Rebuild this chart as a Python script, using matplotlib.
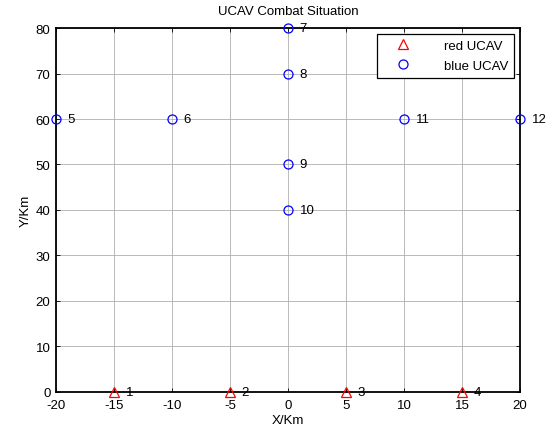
import matplotlib
matplotlib.use("Agg")
import matplotlib.pyplot as plt

red_x = [-15, -5, 5, 15]
red_y = [0, 0, 0, 0]
red_labels = ["1", "2", "3", "4"]
blue_x = [-20, -10, 0, 0, 0, 0, 10, 20]
blue_y = [60, 60, 80, 70, 50, 40, 60, 60]
blue_labels = ["5", "6", "7", "8", "9", "10", "11", "12"]
xticks = [-20, -15, -10, -5, 0, 5, 10, 15, 20]
yticks = [0, 10, 20, 30, 40, 50, 60, 70, 80]

plt.rcParams['font.family'] = ['Liberation Sans', 'DejaVu Sans']
plt.rcParams['axes.unicode_minus'] = False
fs = 9.5
fig = plt.figure(figsize=(5.51, 4.31), dpi=100)
ax = fig.add_axes([0.1016, 0.0882, 0.842, 0.8445])
ax.plot(red_x, red_y, '^', mfc='none', mec='red', ms=7.5, mew=0.9, ls='none', label='red UCAV', clip_on=False, zorder=3)
ax.plot(blue_x, blue_y, 'o', mfc='none', mec='blue', ms=6.5, mew=0.9, ls='none', label='blue UCAV', clip_on=False, zorder=3)
for x, y, t in zip(red_x, red_y, red_labels):
    ax.text(x + 1, y, t, fontsize=fs, va='center', ha='left')
for x, y, t in zip(blue_x, blue_y, blue_labels):
    ax.text(x + 1, y, t, fontsize=fs, va='center', ha='left')
ax.set_xlim(-20, 20)
ax.set_ylim(0, 80)
ax.set_xticks(xticks)
ax.set_yticks(yticks)
ax.tick_params(direction='in', length=3, labelsize=fs, top=True, right=True, width=0.6)
ax.tick_params(axis='x', pad=5)
ax.tick_params(axis='y', pad=4)
ax.grid(True, color='#b0b0b0', lw=0.6, ls='-')
for s in ax.spines.values():
    s.set_linewidth(1.3)
ax.set_xlabel('X/Km', fontsize=fs, labelpad=2)
ax.set_ylabel('Y/Km', fontsize=fs, labelpad=3)
ax.set_title('UCAV Combat Situation', fontsize=fs, pad=10)
leg = ax.legend(loc='upper right', fontsize=fs, fancybox=False, framealpha=1, edgecolor='black',
                borderaxespad=0.45, handletextpad=1.6, handlelength=3.0, borderpad=0.45, labelspacing=0.55)
leg.get_frame().set_linewidth(0.9)
fig.savefig('out.png', dpi=100)
